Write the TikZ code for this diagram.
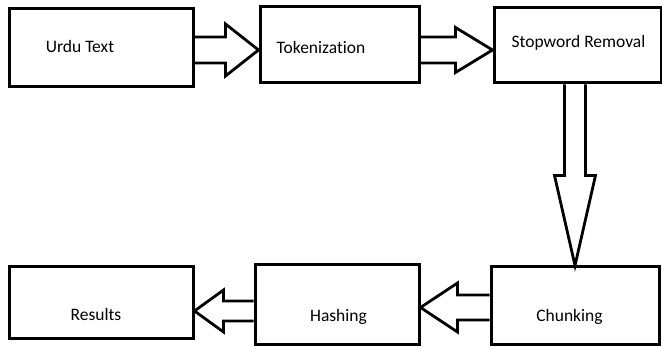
\documentclass[tikz,border=0pt]{standalone}
\usepackage{fontspec}
\setmainfont{Carlito}[Ligatures=NoCommon]
\usetikzlibrary{calc}

\begin{document}
\begin{tikzpicture}[x=1pt,y=-1pt,
	box/.style={draw=black, line width=3pt, rectangle, inner sep=0pt},
	fat/.style={draw=black, line width=2.8pt, line join=miter},
	every label/.style={font=\fontsize{17.5}{20}\selectfont, text height=11.5pt, text depth=0pt, inner sep=0pt}]
	\useasboundingbox (0,0) rectangle (662,347);

	\node[box, minimum width=184pt, minimum height=78pt, label={[xshift=-21pt,yshift=1.5pt]center:Urdu Text}] (urdu) at (101,48) {};
	\node[box, minimum width=159pt, minimum height=76pt, label={[xshift=-18.5pt,yshift=-2.5pt]center:Tokenization}] (token) at (339.5,45) {};
	\node[box, minimum width=167pt, minimum height=75pt, label={[xshift=1pt,yshift=4pt]center:Stopword Removal}] (stop) at (577.5,45.5) {};
	\node[box, minimum width=168pt, minimum height=78pt, label={[xshift=-5.5pt,yshift=-9.5pt]center:Chunking}] (chunk) at (575,306) {};
	\node[box, minimum width=164pt, minimum height=80pt, label={[xshift=1.5pt,yshift=-10.5pt]center:Hashing}] (hash) at (337,305) {};
	\node[box, minimum width=184pt, minimum height=72pt, label={[xshift=-5pt,yshift=-11.5pt]center:Results}] (results) at (101,303) {};

	% hollow block arrows between the steps
	\draw[fat] let \p1=($(urdu.east)+(0,2)$), \p2=(token.west) in
		(\x1,\y1+13pt) -- (\x2-33pt,\y1+13pt) -- (\x2-33pt,\y1+26pt) -- (\x2,\y1)
		-- (\x2-33pt,\y1-26pt) -- (\x2-33pt,\y1-13pt) -- (\x1,\y1-13pt);
	\draw[fat] let \p1=($(token.east)+(0,5)$), \p2=(stop.west) in
		(\x1,\y1+13pt) -- (\x2-37pt,\y1+13pt) -- (\x2-37pt,\y1+22.5pt) -- (\x2,\y1)
		-- (\x2-37pt,\y1-22.5pt) -- (\x2-37pt,\y1-13pt) -- (\x1,\y1-13pt);
	\draw[fat] let \p1=(stop.south), \p2=(chunk.north) in
		(\x2-10.5pt,\y1) -- (\x2-10.5pt,\y2+90pt) -- (\x2-20.5pt,\y2+90pt) -- (\x2,\y2)
		-- (\x2+20.5pt,\y2+90pt) -- (\x2+10.5pt,\y2+90pt) -- (\x2+10.5pt,\y1);
	\draw[fat] let \p1=($(chunk.west)+(0,1.5)$), \p2=(hash.east) in
		(\x1,\y1+12.5pt) -- (\x2+37pt,\y1+12.5pt) -- (\x2+37pt,\y1+24.5pt) -- (\x2,\y1)
		-- (\x2+37pt,\y1-24.5pt) -- (\x2+37pt,\y1-12.5pt) -- (\x1,\y1-12.5pt);
	\draw[fat] let \p1=($(hash.west)+(0,6)$), \p2=(results.east) in
		(\x1,\y1+10pt) -- (\x2+29pt,\y1+10pt) -- (\x2+29pt,\y1+21pt) -- (\x2,\y1)
		-- (\x2+29pt,\y1-21pt) -- (\x2+29pt,\y1-10pt) -- (\x1,\y1-10pt);
\end{tikzpicture}
\end{document}
